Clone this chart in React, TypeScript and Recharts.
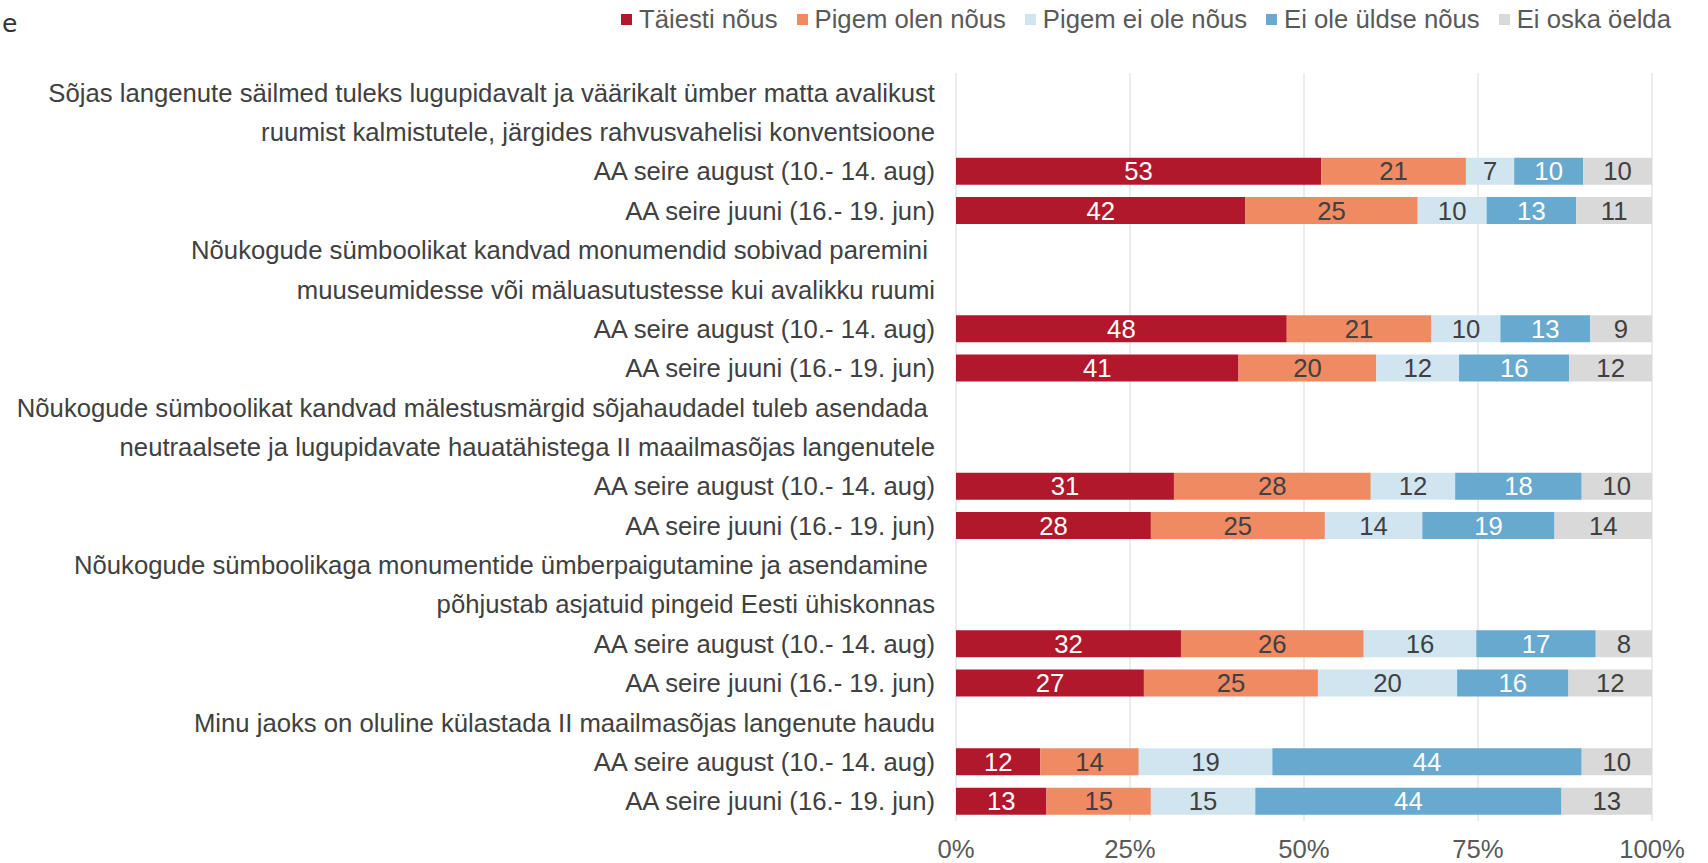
import { BarChart, Bar, XAxis, YAxis, CartesianGrid, LabelList } from "recharts";

const questionLines: string[][] = [
  [
    "Sõjas langenute säilmed tuleks lugupidavalt ja väärikalt ümber matta avalikust",
    "ruumist kalmistutele, järgides rahvusvahelisi konventsioone",
  ],
  [
    "Nõukogude sümboolikat kandvad monumendid sobivad paremini\u00A0",
    "muuseumidesse või mäluasutustesse kui avalikku ruumi",
  ],
  [
    "Nõukogude sümboolikat kandvad mälestusmärgid sõjahaudadel tuleb asendada\u00A0",
    "neutraalsete ja lugupidavate hauatähistega II maailmasõjas langenutele",
  ],
  [
    "Nõukogude sümboolikaga monumentide ümberpaigutamine ja asendamine\u00A0",
    "põhjustab asjatuid pingeid Eesti ühiskonnas",
  ],
  ["Minu jaoks on oluline külastada II maailmasõjas langenute haudu"],
];

const waves = ["AA seire august (10.- 14. aug)", "AA seire juuni (16.- 19. jun)"];

const seriesNames = ["Täiesti nõus", "Pigem olen nõus", "Pigem ei ole nõus", "Ei ole üldse nõus", "Ei oska öelda"];
const taiesti = [53, 42, 48, 41, 31, 28, 32, 27, 12, 13];
const pigemOlen = [21, 25, 21, 20, 28, 25, 26, 25, 14, 15];
const pigemEi = [7, 10, 10, 12, 12, 14, 16, 20, 19, 15];
const eiUldse = [10, 13, 13, 16, 18, 19, 17, 16, 44, 44];
const eiOska = [10, 11, 9, 12, 10, 14, 8, 12, 10, 13];

const pctTicks = [0, 0.25, 0.5, 0.75, 1];

const seriesColors = ["#B2182B", "#EF8A62", "#D1E5F0", "#67A9CF", "#D9D9D9"];
const labelColors = ["#FFFFFF", "#404040", "#404040", "#FFFFFF", "#404040"];
const seriesValues = [taiesti, pigemOlen, pigemEi, eiUldse, eiOska];
const keys = ["s0", "s1", "s2", "s3", "s4"];

const FONT = "'Liberation Sans', Arial, sans-serif";
const FS = 25.7;
const textColor = "#404040";
const axisColor = "#595959";
const gridColor = "#D9D9D9";

type Row = { id: string; label: string; [k: string]: string | number | undefined };

const rows: Row[] = [];
questionLines.forEach((lines, qi) => {
  lines.forEach((line) => rows.push({ id: `r${rows.length}`, label: line }));
  waves.forEach((w, wi) => {
    const k = qi * 2 + wi;
    const row: Row = { id: `r${rows.length}`, label: w };
    keys.forEach((key, si) => {
      row[key] = seriesValues[si][k];
    });
    rows.push(row);
  });
});

const labelById: Record<string, string> = {};
rows.forEach((r) => (labelById[r.id] = r.label));

const CategoryTick = ({ y, payload }: any) => (
  <text x={935} y={y} textAnchor="end" dominantBaseline="central" fontSize={FS} fontFamily={FONT} fill={textColor}>
    {labelById[payload.value]}
  </text>
);

const PctTick = ({ x, payload }: any) => (
  <text x={x} y={849} textAnchor="middle" dominantBaseline="central" fontSize={FS} fontFamily={FONT} fill={axisColor}>
    {`${Math.round(payload.value * 100)}%`}
  </text>
);

function Legendish() {
  return (
    <div
      style={{
        position: "absolute",
        left: 621,
        top: 5,
        display: "flex",
        alignItems: "center",
        fontFamily: FONT,
        fontSize: FS,
        color: axisColor,
        whiteSpace: "nowrap",
      }}
    >
      {seriesNames.map((name, i) => (
        <div key={name} style={{ display: "flex", alignItems: "center", marginRight: 19 }}>
          <span style={{ width: 11, height: 11, background: seriesColors[i], display: "inline-block", marginRight: 7 }} />
          <span>{name}</span>
        </div>
      ))}
    </div>
  );
}

export default function App() {
  return (
    <div style={{ position: "absolute", left: 0, top: 0, width: 1708, height: 863, background: "#fff" }}>
      <div style={{ position: "absolute", left: 2, top: 9, fontFamily: "'DejaVu Sans', sans-serif", fontSize: 25, color: "#333" }}>
        e
      </div>
      <Legendish />
      <BarChart
        width={1708}
        height={863}
        data={rows}
        layout="vertical"
        stackOffset="expand"
        barSize={27}
        margin={{ top: 73, right: 56, bottom: 0, left: 0 }}
      >
        <CartesianGrid horizontal={false} stroke={gridColor} />
        <XAxis
          type="number"
          domain={[0, 1]}
          ticks={pctTicks}
          axisLine={false}
          tickLine={false}
          tick={<PctTick />}
          height={42}
        />
        <YAxis type="category" dataKey="id" width={956} axisLine={false} tickLine={false} tick={<CategoryTick />} interval={0} />
        {keys.map((key, i) => (
          <Bar key={key} dataKey={key} stackId="a" fill={seriesColors[i]} isAnimationActive={false}>
            <LabelList
              dataKey={key}
              position="center"
              fill={labelColors[i]}
              fontSize={FS}
              fontFamily={FONT}
              formatter={(v: any) => (v == null ? "" : v)}
            />
          </Bar>
        ))}
      </BarChart>
    </div>
  );
}
